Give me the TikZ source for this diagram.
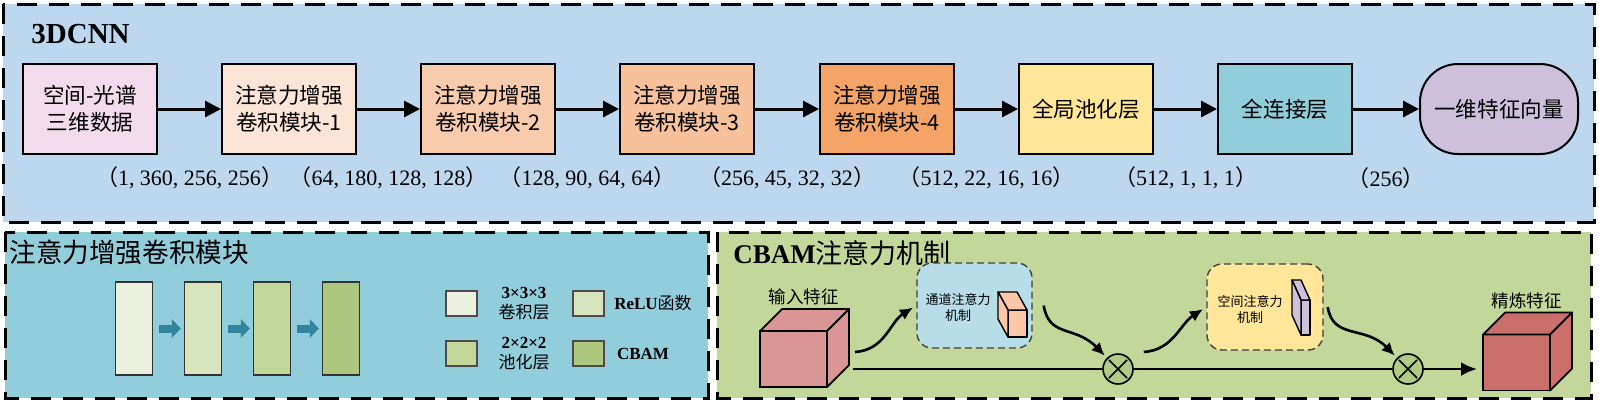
\documentclass[tikz,border=0pt]{standalone}
\usepackage{fontspec}
\setmainfont{Liberation Serif}
\newfontfamily\cjk{Noto Sans CJK SC}
\usepackage{tikz}
\usetikzlibrary{arrows.meta}
\definecolor{toppanel}{HTML}{BDD7EE}
\definecolor{modulepanel}{HTML}{92CDDC}
\definecolor{cbampanel}{HTML}{C4D79B}
\definecolor{inputcol}{HTML}{F2DCEC}
\definecolor{blockA}{HTML}{FCE4D6}
\definecolor{blockB}{HTML}{F8CBAD}
\definecolor{blockC}{HTML}{F7C19C}
\definecolor{blockD}{HTML}{F4A466}
\definecolor{gpoolcol}{HTML}{FFE699}
\definecolor{fccol}{HTML}{92CDDC}
\definecolor{vectorcol}{HTML}{CCC0DA}
\definecolor{convcol}{HTML}{EBF1DE}
\definecolor{relucol}{HTML}{D7E4BD}
\definecolor{poolcol}{HTML}{C4D79B}
\definecolor{cbamcol}{HTML}{AEC77F}
\definecolor{stepteal}{HTML}{31859C}
\definecolor{incube}{HTML}{DA9694}
\definecolor{outcube}{HTML}{CB6F6B}
\definecolor{chancol}{HTML}{B7DEE8}
\definecolor{spatcol}{HTML}{FFE699}
\definecolor{cuboidcol}{HTML}{FBC7A8}
\definecolor{platecol}{HTML}{CCC0DA}
\definecolor{multcol}{HTML}{B0CB86}
\tikzset{panelbox/.style={draw=black,line width=1.5pt,dash pattern=on 10pt off 6pt},panel title/.style={anchor=west,inner sep=0pt,font=\fontsize{14.5}{16}\selectfont},layerbox/.style={draw=black,line width=1pt,minimum width=67pt,minimum height=45pt,inner sep=2pt,align=center,font=\cjk\fontsize{10.8}{13.5}\selectfont},flowarrow/.style={-{Triangle[length=8pt,width=8pt]},line width=1.5pt},dims/.style={inner sep=0pt,font=\fontsize{11}{13}\selectfont},barbox/.style={draw=black!80,line width=.6pt,minimum width=18.5pt,minimum height=46.5pt,inner sep=0pt},inner flow/.style={-{Triangle[length=4.5pt,width=9pt]},line width=4pt,draw=stepteal},key box/.style={draw=black!70,line width=.6pt,minimum width=15.5pt,minimum height=12.5pt,inner sep=0pt},key text/.style={align=center,inner sep=0pt,font=\fontsize{8.5}{9.8}\selectfont},att box/.style={draw=black!75,line width=.7pt,dash pattern=on 3.5pt off 2pt,rounded corners=7.5pt,inner sep=0pt},att text/.style={align=center,inner sep=0pt,font=\cjk\fontsize{6.5}{8}\selectfont},solid edge/.style={draw=black,line width=.7pt,line join=round},cubefront/.style={draw=black,line width=.9pt,minimum width=33.5pt,minimum height=28pt,inner sep=0pt,outer sep=0pt},cubeedge/.style={draw=black,line width=.9pt,line join=round},feature label/.style={inner sep=0pt,font=\cjk\fontsize{8.75}{10}\selectfont},mult/.style={circle,draw=black,line width=.8pt,fill=multcol,minimum size=15pt,inner sep=0pt},wavearrow/.style={-{Latex[length=6.5pt,width=6pt]},line width=1.3pt},busline/.style={line width=1.3pt}}
\newcommand{\shapelabel}[1]{{\cjk （}#1{\cjk ）}}
\begin{document}
\begin{tikzpicture}[x=0.5pt,y=-0.5pt]
 \useasboundingbox (0,0) rectangle (1599,404);
 % 3DCNN pipeline
 \filldraw[panelbox,fill=toppanel] (3,4) rectangle (1594,222);
 \node[panel title] (cnntitle) at (31,34) {\textbf{3DCNN}};
 \foreach \i/\xx/\col/\txt in {1/90/inputcol/{空间-光谱\\三维数据},2/289/blockA/{注意力增强\\卷积模块-1},3/488/blockB/{注意力增强\\卷积模块-2},4/687/blockC/{注意力增强\\卷积模块-3},5/887/blockD/{注意力增强\\卷积模块-4},6/1086/gpoolcol/{全局池化层},7/1285/fccol/{全连接层}}
   \node[layerbox,fill=\col] (b\i) at (\xx,109) {\txt};
 \node[layerbox,fill=vectorcol,rounded corners=19pt,minimum width=79pt] (b8) at (1499,109) {一维特征向量};
 \foreach \i/\j/\dims in {1/2/{1, 360, 256, 256},2/3/{64, 180, 128, 128},3/4/{128, 90, 64, 64},4/5/{256, 45, 32, 32},5/6/{512, 22, 16, 16},6/7/{512, 1, 1, 1},7/8/{256}}
   \draw[flowarrow] (b\i.east) -- node[dims,yshift=-34.5pt] (d\i) {\shapelabel{\dims}} (b\j.west);
 % attention-enhanced conv block
 \filldraw[panelbox,fill=modulepanel] (5,232) rectangle (708,398);
 \node[panel title,font=\cjk\fontsize{13.3}{15}\selectfont] (modtitle) at (9,252) {注意力增强卷积模块};
 \foreach \k/\xx/\col in {1/134/convcol,2/203/relucol,3/272/poolcol,4/341/cbamcol}
   \node[barbox,fill=\col] (bar\k) at (\xx,328.5) {};
 \foreach \k/\l in {1/2,2/3,3/4}
   \draw[inner flow] ([xshift=3pt]bar\k.east) -- ([xshift=-1.5pt]bar\l.west);
 \foreach \k/\xx/\yy/\col/\tx/\txt in {conv/461.5/303.5/convcol/524/{\textbf{3×3×3}\\{\cjk 卷积层}},relu/588.5/303.5/relucol/653/{\textbf{ReLU}{\cjk 函数}},pool/461.5/353.5/poolcol/524/{\textbf{2×2×2}\\{\cjk 池化层}},cbam/588.5/353.5/cbamcol/643/{\textbf{CBAM}}} {
   \node[key box,fill=\col] (key\k) at (\xx,\yy) {};
   \node[key text] (key\k lbl) at (\tx,\yy) {\txt};
 }
 % CBAM
 \filldraw[panelbox,fill=cbampanel] (717,232) rectangle (1591,398);
 \node[panel title,font=\fontsize{13.5}{15}\selectfont] (cbamtitle) at (733,253) {\textbf{CBAM}{\cjk 注意力机制}};
 \node[att box,fill=chancol,minimum width=57.5pt,minimum height=42.5pt] (chan) at (974.5,305.5) {};
 \node[att text] (chanlbl) at (958,307) {通道注意力\\机制};
 \filldraw[solid edge,fill=cuboidcol] (1008,310) rectangle (1027,337);
 \filldraw[solid edge,fill=cuboidcol] (1008,310) -- (998,292) -- (1017,292) -- (1027,310) -- cycle;
 \filldraw[solid edge,fill=cuboidcol] (1008,310) -- (998,292) -- (998,319) -- (1008,337) -- cycle;
 \node[att box,fill=spatcol,minimum width=58pt,minimum height=43pt] (spat) at (1265,307) {};
 \node[att text] (spatlbl) at (1250,309) {空间注意力\\机制};
 \filldraw[solid edge,fill=platecol] (1301,300) rectangle (1310,335);
 \filldraw[solid edge,fill=platecol] (1301,300) -- (1292,280) -- (1301,280) -- (1310,300) -- cycle;
 \filldraw[solid edge,fill=platecol] (1301,300) -- (1292,280) -- (1292,315) -- (1301,335) -- cycle;
 \foreach \cname/\cx/\cy/\ccol/\ctext in {infeat/793.5/359/incube/输入特征,outfeat/1516.5/362.5/outcube/精炼特征} {
   \node[cubefront,fill=\ccol] (\cname) at (\cx,\cy) {};
   \filldraw[cubeedge,fill=\ccol] (\cname.north west) -- ++(22,-22) -- ++(67,0) -- (\cname.north east) -- cycle;
   \filldraw[cubeedge,fill=\ccol] (\cname.north east) -- ++(22,-22) -- ++(0,56) -- (\cname.south east) -- cycle;
   \node[feature label] (\cname lbl) at ([xshift=5pt,yshift=17pt]\cname.north) {\ctext};
 }
 \foreach \k/\xx in {1/1118,2/1408} {
   \node[mult] (m\k) at (\xx,369) {};
   \draw[line width=.8pt,shorten >=1.5pt,shorten <=1.5pt] (m\k.45) -- (m\k.225);
   \draw[line width=.8pt,shorten >=1.5pt,shorten <=1.5pt] (m\k.135) -- (m\k.315);
 }
 \coordinate (featout) at ([xshift=13pt,yshift=-5pt]infeat.east);
 \coordinate (chanin) at ([xshift=14pt,yshift=3.5pt]infeat.east);
 \coordinate (chanout) at ([xshift=5.5pt]chan.east);
 \coordinate (spatin) at ([xshift=5pt,yshift=8.5pt]m1.east);
 \coordinate (spatout) at ([xshift=2pt]spat.east);
 \draw[busline] (featout) -- (m1.west);
 \draw[busline] (m1.east) -- (m2.west);
 \draw[busline,-{Latex[length=8pt,width=7pt]},shorten >=3pt] (m2.east) -- (m2.east -| outfeat.west);
 \draw[wavearrow,shorten >=2pt] (chanin) .. controls (885,350) and (890,322) .. (chan.west);
 \draw[wavearrow,shorten >=1.5pt] (chanout) .. controls (1049,338) and (1075,325) .. (m1.135);
 \draw[wavearrow,shorten >=2pt] (spatin) .. controls (1173,350) and (1180,324) .. (spat.west);
 \draw[wavearrow,shorten >=1.5pt] (spatout) .. controls (1333,340) and (1365,325) .. (m2.135);
\end{tikzpicture}
\end{document}
